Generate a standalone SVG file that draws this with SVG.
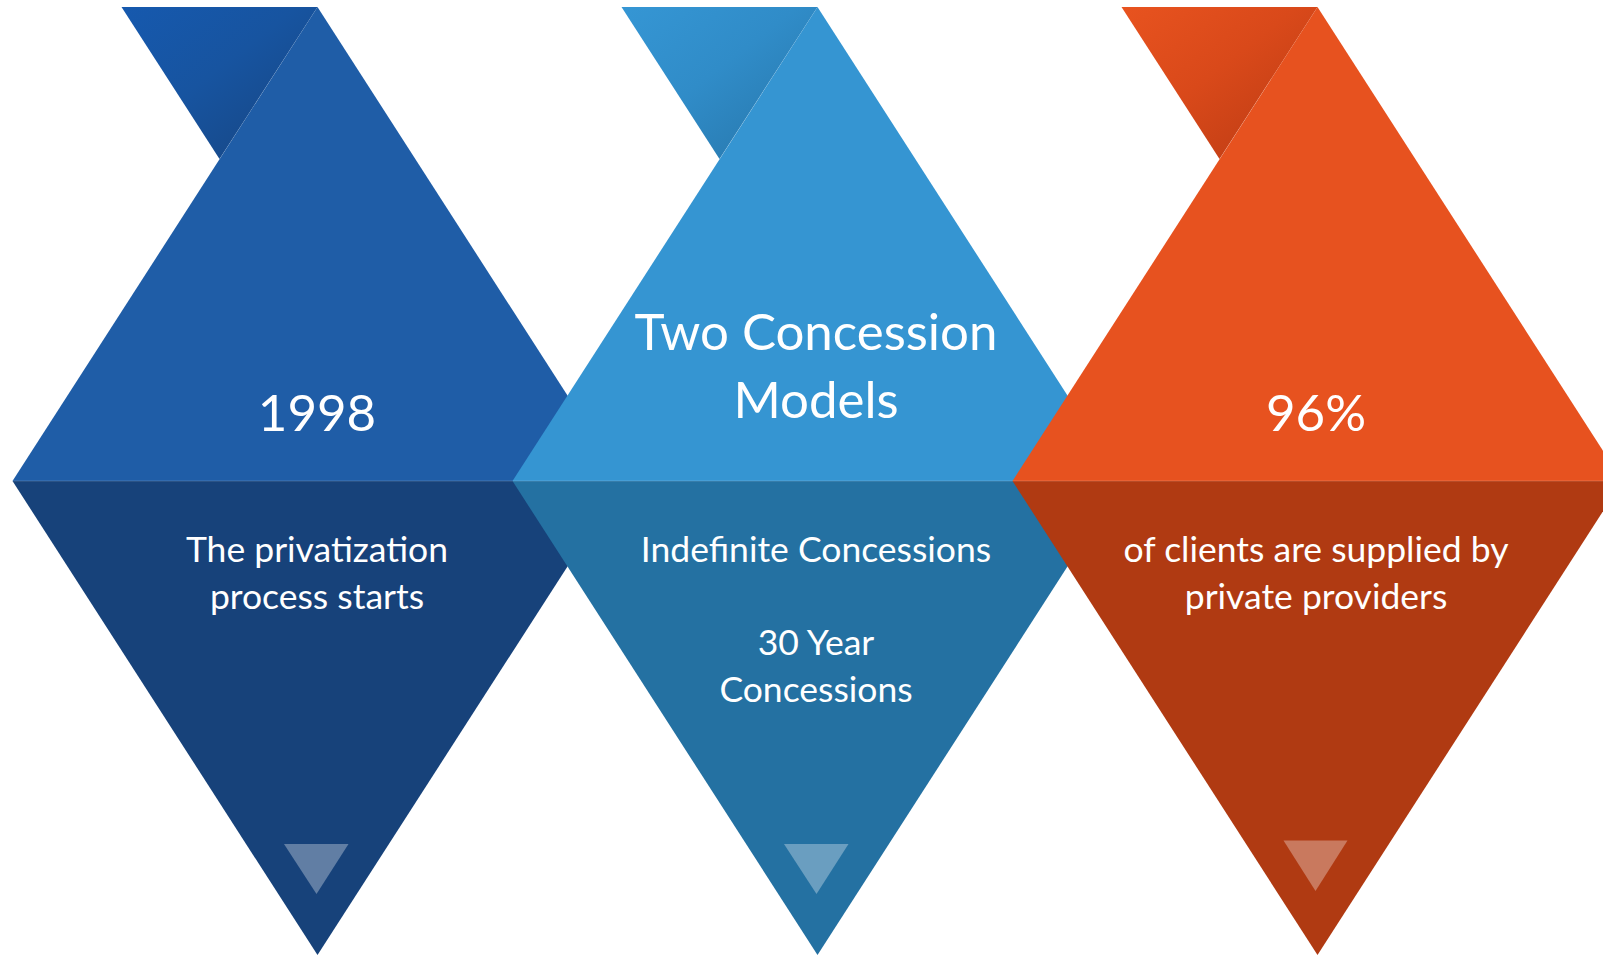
<svg xmlns="http://www.w3.org/2000/svg" width="1603" height="956" viewBox="0 0 1603 956">
  <defs>
    <linearGradient id="g1" x1="0" y1="0" x2="1" y2="1">
      <stop offset="0" stop-color="#1659AE"/>
      <stop offset="0.45" stop-color="#1754A0"/>
      <stop offset="1" stop-color="#17447F"/>
    </linearGradient>
    <linearGradient id="g2" x1="0" y1="0" x2="1" y2="1">
      <stop offset="0" stop-color="#3596D4"/>
      <stop offset="0.45" stop-color="#308CC8"/>
      <stop offset="1" stop-color="#2674A8"/>
    </linearGradient>
    <linearGradient id="g3" x1="0" y1="0" x2="1" y2="1">
      <stop offset="0" stop-color="#E8531F"/>
      <stop offset="0.45" stop-color="#D9491A"/>
      <stop offset="1" stop-color="#B93A13"/>
    </linearGradient>
  </defs>
  <style>
    .t { font-family: Lato, "Open Sans", "Liberation Sans", sans-serif; fill: #FFFFFF; text-anchor: middle; }
    .big { font-size: 51px; }
    .num { font-size: 51px; }
    .body { font-size: 35.5px; }
    .mark { fill: #FFFFFF; fill-opacity: 0.32; }
    .seam { stroke: #FFFFFF; stroke-opacity: 0.18; stroke-width: 1; }
  </style>

  <g id="node-1998">
    <polygon points="121.5,7 317.5,7 219.5,159" fill="url(#g1)"/>
    <polygon points="317.5,7 622.5,481 12.5,481" fill="#1F5DA7"/>
    <polygon points="12.5,481 622.5,481 317.5,955" fill="#17427A"/>
    <line class="seam" x1="13" y1="481" x2="622" y2="481"/>
    <polygon class="mark" points="284,844 348.5,844 316.5,894"/>
    <text class="t num" x="317" y="431">1998</text>
    <text class="t body" x="317" y="562">The privatization</text>
    <text class="t body" x="317" y="609">process starts</text>
  </g>

  <g id="node-concession">
    <polygon points="621.5,7 817.5,7 719.5,159" fill="url(#g2)"/>
    <polygon points="817.5,7 1122.5,481 512.5,481" fill="#3595D2"/>
    <polygon points="512.5,481 1122.5,481 817.5,955" fill="#2471A2"/>
    <line class="seam" x1="513" y1="481" x2="1122" y2="481"/>
    <polygon class="mark" points="784,844 848.5,844 816.5,894"/>
    <text class="t big" x="816" y="350">Two Concession</text>
    <text class="t big" x="816" y="418">Models</text>
    <text class="t body" x="816" y="562">Indefinite Concessions</text>
    <text class="t body" x="816" y="655">30 Year</text>
    <text class="t body" x="816" y="702">Concessions</text>
  </g>

  <g id="node-96">
    <polygon points="1121.5,7 1317.5,7 1219.5,159" fill="url(#g3)"/>
    <polygon points="1317.5,7 1622.5,481 1012.5,481" fill="#E7521F"/>
    <polygon points="1012.5,481 1622.5,481 1317.5,955" fill="#B03A12"/>
    <line class="seam" x1="1013" y1="481" x2="1603" y2="481"/>
    <polygon class="mark" points="1283.5,840.5 1347.5,840.5 1315.5,891"/>
    <text class="t num" x="1316" y="431">96%</text>
    <text class="t body" x="1316" y="562">of clients are supplied by</text>
    <text class="t body" x="1316" y="609">private providers</text>
  </g>

  <g id="connectors"/>
</svg>
